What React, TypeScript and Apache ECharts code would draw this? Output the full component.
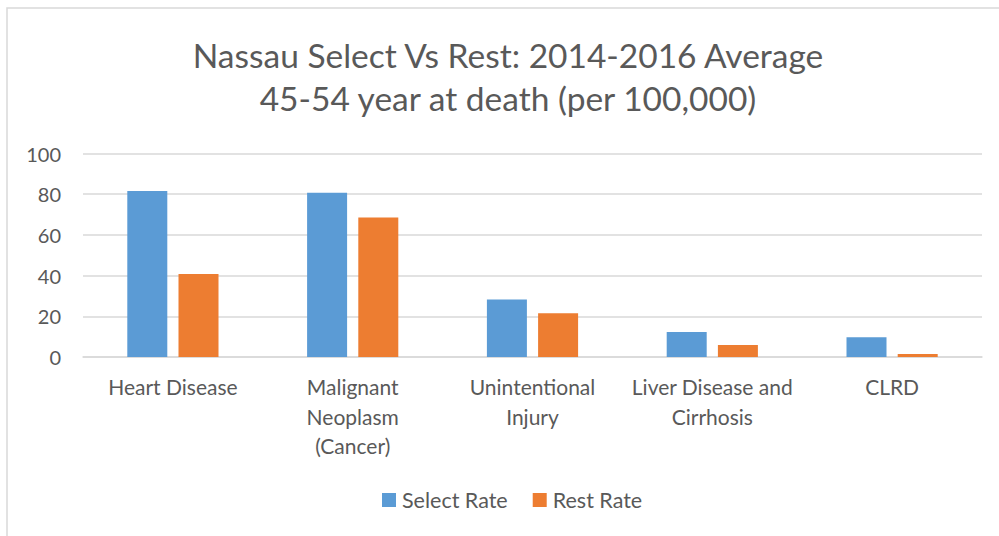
import React, { useEffect, useRef } from "react";
import * as echarts from "echarts";

const categories = [
  "Heart Disease",
  "Malignant\nNeoplasm\n(Cancer)",
  "Unintentional\nInjury",
  "Liver Disease and\nCirrhosis",
  "CLRD",
];
const selectRate = [81.6, 80.7, 28.2, 12.3, 9.7];
const restRate = [40.8, 68.6, 21.5, 5.9, 1.5];
const titleLines = [
  "Nassau Select Vs Rest: 2014-2016 Average",
  "45-54 year at death (per 100,000)",
];

const FONT = "Lato, 'Open Sans', sans-serif";
const TXT = "#595959";

export default function App() {
  const ref = useRef<HTMLDivElement>(null);
  useEffect(() => {
    if (!ref.current) return;
    const chart = echarts.init(ref.current, undefined, { renderer: "svg" });
    chart.setOption({
      animation: false,
      backgroundColor: "#ffffff",
      textStyle: { fontFamily: FONT },
      graphic: [
        {
          type: "rect",
          shape: { x: 7, y: 8, width: 1100, height: 700 },
          style: { fill: "none", stroke: "#d9d9d9", lineWidth: 1.5 },
          z: -1,
        },
        ...titleLines.map((t, i) => ({
          type: "text",
          x: 508,
          y: 55 + i * 43,
          style: {
            text: t,
            fill: TXT,
            font: `normal 33.5px ${FONT}`,
            textAlign: "center",
            textVerticalAlign: "middle",
          },
        })),
      ],
      legend: {
        top: 484,
        left: 377,
        itemWidth: 14,
        itemHeight: 14,
        itemGap: 25,
        icon: "rect",
        textStyle: { fontFamily: FONT, fontSize: 21.5, color: TXT, padding: [0, 0, 0, 1] },
        data: ["Select Rate", "Rest Rate"],
      },
      grid: { left: 83, right: 17, top: 153.5, bottom: 179, containLabel: false },
      xAxis: {
        type: "category",
        data: categories,
        axisLine: { lineStyle: { color: "#d9d9d9", width: 1.5 } },
        axisTick: { show: false },
        axisLabel: {
          fontFamily: FONT,
          fontSize: 21,
          color: TXT,
          lineHeight: 29.5,
          margin: 15,
          interval: 0,
        },
      },
      yAxis: {
        type: "value",
        min: 0,
        max: 100,
        interval: 20,
        axisLine: { show: false },
        axisTick: { show: false },
        splitLine: { lineStyle: { color: "#d9d9d9", width: 1.5 } },
        axisLabel: { fontFamily: FONT, fontSize: 20, color: TXT, margin: 22 },
      },
      series: [
        {
          name: "Select Rate",
          type: "bar",
          data: selectRate,
          barWidth: 40,
          barGap: "28%",
          itemStyle: { color: "#5b9bd5" },
        },
        {
          name: "Rest Rate",
          type: "bar",
          data: restRate,
          barWidth: 40,
          itemStyle: { color: "#ed7d31" },
        },
      ],
    });
    return () => chart.dispose();
  }, []);
  return (
    <div
      ref={ref}
      style={{ position: "fixed", left: 0, top: 0, width: 999, height: 536 }}
    />
  );
}
